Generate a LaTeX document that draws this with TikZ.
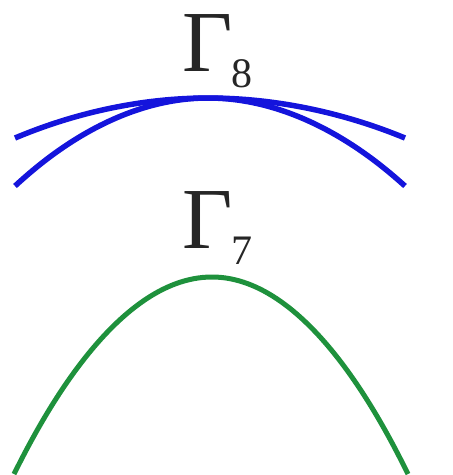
\documentclass[tikz,border=0pt]{standalone}
\usepackage{fontspec}
\setmainfont{Liberation Serif}
\newcommand{\bigG}[1]{{\fontsize{87}{87}\selectfont Γ}\kern-1pt\raisebox{-16pt}{\fontsize{42}{42}\selectfont #1}}
\begin{document}
\begin{tikzpicture}[x=1pt,y=-1pt,
  band8/.style={draw={rgb,255:red,20;green,20;blue,220},line width=5.5pt},
  band7/.style={draw={rgb,255:red,30;green,145;blue,60},line width=5pt},
  lbl/.style={inner sep=0pt,anchor=base west,text=black!85}]
\useasboundingbox (0,0) rectangle (453,475);
\draw[band8] (15,138) parabola bend (208,98) (405,138);
\draw[band8] (15,186) parabola bend (208,98) (405,186);
\draw[band7] (14,474) parabola bend (212,277) (408,474);
\node[lbl] (g8) at (182,71) {\bigG{8}};
\node[lbl] (g7) at (182,248) {\bigG{7}};
\end{tikzpicture}
\end{document}
